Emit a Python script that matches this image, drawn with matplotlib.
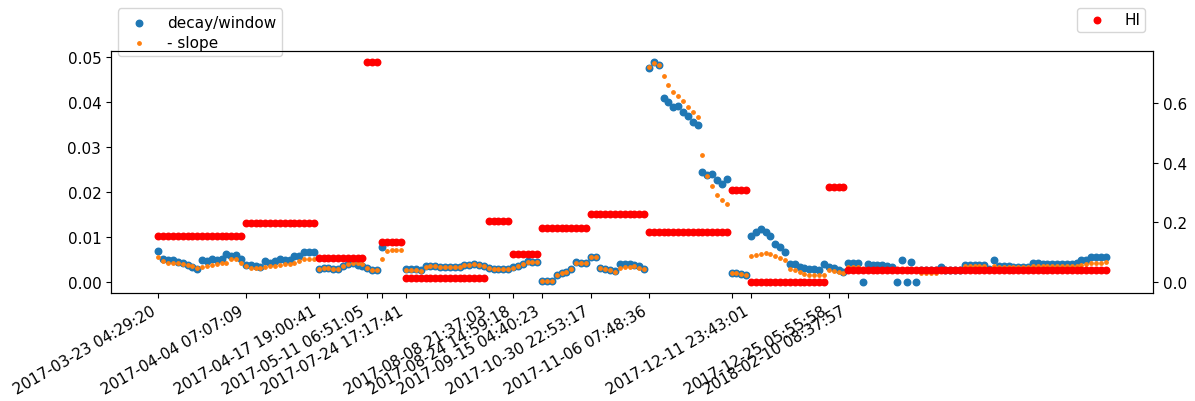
import numpy as np
import matplotlib
matplotlib.use("Agg")
import matplotlib.pyplot as plt

plt.rcParams.update({
    "font.size": 11,
})

# decay/window (left axis), one value per sample
decay_window = [
    # 0-32
    0.0068, 0.0050, 0.0048, 0.0048, 0.0044, 0.0043, 0.0038, 0.0034, 0.0029, 0.0048,
    0.0046, 0.0050, 0.0049, 0.0050, 0.0061, 0.0058, 0.0059, 0.0050, 0.0037, 0.0037,
    0.0035, 0.0033, 0.0046, 0.0043, 0.0046, 0.0052, 0.0048, 0.0048, 0.0058, 0.0058,
    0.0066, 0.0066, 0.0066,
    # 33-50
    0.0028, 0.0031, 0.0031, 0.0029, 0.0029, 0.0035, 0.0040, 0.0042, 0.0037, 0.0036,
    0.0031, 0.0027, 0.0027, 0.0078, np.nan, np.nan, np.nan, np.nan,
    # 51-78
    0.0029, 0.0028, 0.0028, 0.0026, 0.0035, 0.0035, 0.0035, 0.0033, 0.0033, 0.0033,
    0.0033, 0.0033, 0.0038, 0.0037, 0.0040, 0.0038, 0.0035, 0.0031, 0.0028, 0.0029,
    0.0028, 0.0029, 0.0033, 0.0035, 0.0040, 0.0046, 0.0044, 0.0044,
    # 79-100
    0.0003, 0.0003, 0.0003, 0.0015, 0.0021, 0.0022, 0.0029, 0.0044, 0.0042, 0.0042,
    0.0055, 0.0055, 0.0031, 0.0029, 0.0026, 0.0024, 0.0040, 0.0040, 0.0040, 0.0037,
    0.0035, 0.0028,
    # 101-121
    0.0474, 0.0488, 0.0481, 0.0409, 0.0400, 0.0389, 0.0390, 0.0377, 0.0369, 0.0355,
    0.0349, 0.0243, 0.0237, 0.0239, 0.0227, 0.0217, 0.0229, 0.0020, 0.0020, 0.0018,
    0.0016,
    # 122-137
    0.0102, 0.0111, 0.0118, 0.0111, 0.0103, 0.0085, 0.0077, 0.0066, 0.0040, 0.0040,
    0.0033, 0.0031, 0.0029, 0.0028, 0.0026, 0.0040,
    # 138-195
    0.0033, 0.0031, 0.0026, 0.0022, 0.0043, 0.0043, 0.0043, 0.0000, 0.0040, 0.0038,
    0.0038, 0.0037, 0.0035, 0.0033, 0.0000, 0.0048, 0.0000, 0.0044, 0.0000, 0.0026,
    0.0026, 0.0026, 0.0026, 0.0033, 0.0027, 0.0027, 0.0027, 0.0027, 0.0038, 0.0038,
    0.0038, 0.0038, 0.0038, 0.0028, 0.0048, 0.0035, 0.0035, 0.0035, 0.0033, 0.0033,
    0.0033, 0.0033, 0.0042, 0.0042, 0.0040, 0.0040, 0.0040, 0.0040, 0.0040, 0.0040,
    0.0040, 0.0042, 0.0048, 0.0048, 0.0055, 0.0055, 0.0055, 0.0055,
]

# - slope (left axis)
neg_slope = [
    # 0-32
    0.0055, 0.0046, 0.0043, 0.0042, 0.0041, 0.0039, 0.0037, 0.0035, 0.0030, 0.0033,
    0.0035, 0.0037, 0.0039, 0.0041, 0.0043, 0.0052, 0.0050, 0.0041, 0.0035, 0.0032,
    0.0030, 0.0031, 0.0034, 0.0035, 0.0036, 0.0037, 0.0039, 0.0040, 0.0043, 0.0046,
    0.0050, 0.0051, 0.0052,
    # 33-50
    0.0028, 0.0031, 0.0031, 0.0029, 0.0029, 0.0035, 0.0039, 0.0041, 0.0043, 0.0040,
    0.0031, 0.0027, 0.0027, 0.0052, 0.0068, 0.0070, 0.0071, 0.0071,
    # 51-78
    0.0027, 0.0026, 0.0026, 0.0025, 0.0034, 0.0035, 0.0035, 0.0033, 0.0033, 0.0033,
    0.0033, 0.0033, 0.0037, 0.0037, 0.0039, 0.0038, 0.0035, 0.0031, 0.0028, 0.0029,
    0.0028, 0.0029, 0.0032, 0.0035, 0.0039, 0.0045, 0.0044, 0.0044,
    # 79-100
    0.0003, 0.0003, 0.0003, 0.0015, 0.0021, 0.0022, 0.0029, 0.0041, 0.0042, 0.0042,
    0.0055, 0.0055, 0.0031, 0.0029, 0.0026, 0.0022, 0.0031, 0.0033, 0.0033, 0.0035,
    0.0031, 0.0028,
    # 101-121
    0.0476, 0.0486, 0.0481, 0.0456, 0.0437, 0.0422, 0.0412, 0.0402, 0.0389, 0.0376,
    0.0366, 0.0282, 0.0236, 0.0214, 0.0193, 0.0182, 0.0173, 0.0020, 0.0020, 0.0018,
    0.0016,
    # 122-137
    0.0057, 0.0060, 0.0063, 0.0064, 0.0063, 0.0057, 0.0053, 0.0048, 0.0028, 0.0026,
    0.0022, 0.0018, 0.0016, 0.0015, 0.0015, 0.0016,
    # 138-195
    0.0027, 0.0025, 0.0022, 0.0021, 0.0033, 0.0033, 0.0033, 0.0027, 0.0027, 0.0027,
    0.0027, 0.0027, 0.0027, 0.0027, 0.0027, 0.0027, 0.0027, 0.0027, 0.0027, 0.0021,
    0.0021, 0.0021, 0.0021, 0.0027, 0.0027, 0.0027, 0.0027, 0.0027, 0.0035, 0.0035,
    0.0035, 0.0035, 0.0035, 0.0028, 0.0035, 0.0033, 0.0033, 0.0033, 0.0033, 0.0033,
    0.0033, 0.0033, 0.0035, 0.0035, 0.0035, 0.0035, 0.0035, 0.0035, 0.0035, 0.0035,
    0.0035, 0.0035, 0.0038, 0.0040, 0.0042, 0.0042, 0.0043, 0.0045,
]

# HI (right axis) is constant over each run
hi_levels = [0.155, 0.198, 0.081, 0.738, 0.135, 0.013, 0.204, 0.093,
             0.182, 0.228, 0.169, 0.310, 0.000, 0.317, 0.041]
hi_counts = [18, 15, 10, 3, 5, 17, 5, 6, 10, 12, 17, 4, 16, 4, 54]

tick_pos = [0, 18, 33, 43, 46, 51, 68, 73, 79, 89, 101, 118, 122, 138, 142]
tick_labels = [
    "2017-03-23 04:29:20", "2017-04-04 07:07:09", "2017-04-17 19:00:41",
    "2017-05-11 06:51:05", "", "2017-07-24 17:17:41", "2017-08-08 21:37:03",
    "2017-08-24 14:59:18", "2017-09-15 04:40:23", "2017-10-30 22:53:17",
    "2017-11-06 07:48:36", "", "2017-12-11 23:43:01", "2017-12-25 05:55:58",
    "2018-02-10 08:37:57",
]

hi = np.repeat(hi_levels, hi_counts)
x = np.arange(len(decay_window))

fig = plt.figure(figsize=(11.95, 4.02), dpi=100)
ax = fig.add_axes([0.0929, 0.2687, 0.8720, 0.6020])

ax.scatter(x, decay_window, s=22, color="#1f77b4", label="decay/window")
ax.scatter(x, neg_slope, s=6, color="#ff7f0e", label="- slope")
ax.set_xticks(tick_pos)
ax.set_xticklabels(tick_labels, rotation=30, ha="right")
ax.legend(loc="lower left", bbox_to_anchor=(0.0067, 0.979),
          borderaxespad=0, labelspacing=0.35)

ax2 = ax.twinx()
ax2.scatter(x, hi, s=22, color="red", label="HI")
ax2.legend(loc="lower right", bbox_to_anchor=(0.992, 1.079),
           borderaxespad=0, borderpad=0.3)

fig.savefig("out.png", dpi=100)
